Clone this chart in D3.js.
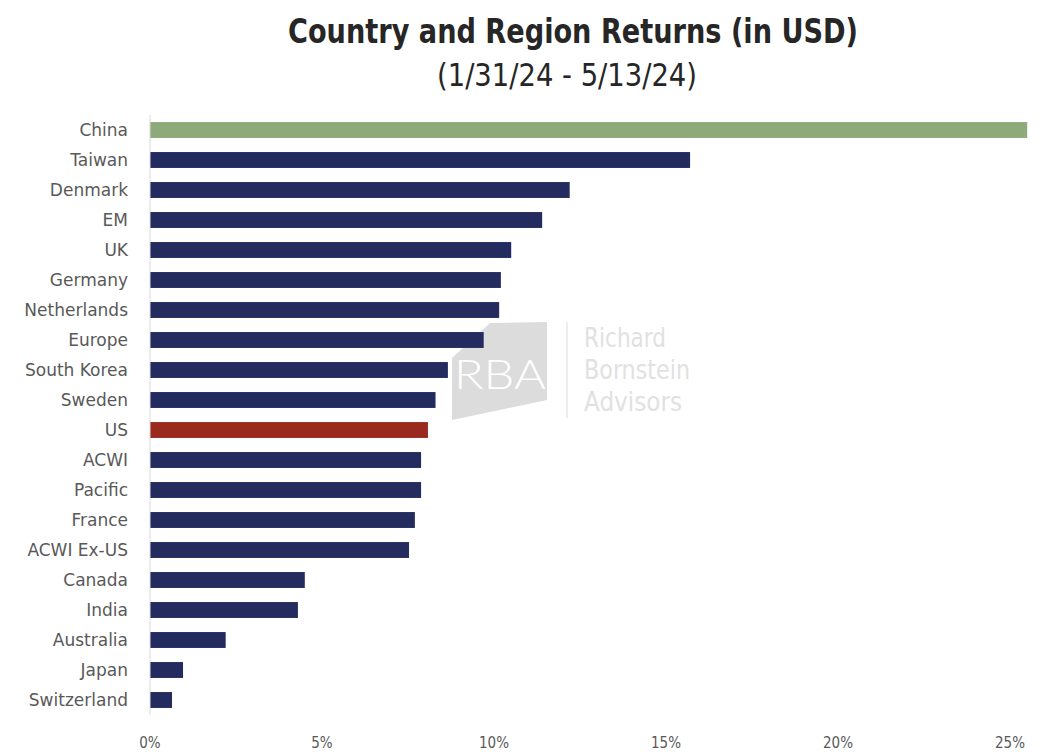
<!DOCTYPE html>
<html>
<head>
<meta charset="utf-8">
<script src="https://cdn.jsdelivr.net/npm/d3@7"></script>
<style>
  body { margin: 0; background: #fff; }
  svg text { font-family: "Liberation Sans Narrow", "DejaVu Sans Condensed", "Liberation Sans", sans-serif; }
</style>
</head>
<body>
<div id="chart"></div>
<script>
(function(d3) {
  'use strict';

  var countries = ['China', 'Taiwan', 'Denmark', 'EM', 'UK', 'Germany', 'Netherlands',
    'Europe', 'South Korea', 'Sweden', 'US', 'ACWI', 'Pacific', 'France', 'ACWI Ex-US',
    'Canada', 'India', 'Australia', 'Japan', 'Switzerland'];
  var returns = [25.5, 15.7, 12.2, 11.4, 10.5, 10.2, 10.15, 9.7, 8.66, 8.3, 8.08,
    7.88, 7.88, 7.7, 7.53, 4.5, 4.3, 2.2, 0.96, 0.64];
  var ticks = [0, 5, 10, 15, 20, 25];

  var width = 1044;
  var height = 756;
  var margin = {top: 115, right: 34, bottom: 56, left: 150};

  var colorFor = function(name) {
    if (name === 'China') return '#8eaa7b';
    if (name === 'US') return '#9b2a1e';
    return '#242b5e';
  };

  var svg = d3.select('#chart')
    .append('svg')
    .attr('width', width)
    .attr('height', height);

  // title
  svg.append('text')
    .attr('x', 573).attr('y', 43)
    .attr('text-anchor', 'middle')
    .attr('font-size', 34)
    .attr('font-weight', 'bold')
    .attr('fill', '#262626')
    .attr('textLength', 570)
    .attr('lengthAdjust', 'spacingAndGlyphs')
    .text('Country and Region Returns (in USD)');

  svg.append('text')
    .attr('x', 567).attr('y', 86)
    .attr('text-anchor', 'middle')
    .attr('font-size', 32)
    .attr('fill', '#262626')
    .attr('textLength', 260)
    .attr('lengthAdjust', 'spacingAndGlyphs')
    .text('(1/31/24 - 5/13/24)');

  // watermark
  var wm = svg.append('g').attr('opacity', 0.85);
  wm.append('polygon')
    .attr('points', '490,323 547,322 547,400 452,420 452,358')
    .attr('fill', '#d6d6d6');
  wm.append('text')
    .attr('x', 500).attr('y', 389)
    .attr('text-anchor', 'middle')
    .attr('font-size', 42)
    .attr('fill', '#fff')
    .attr('textLength', 92)
    .attr('lengthAdjust', 'spacingAndGlyphs')
    .style('font-family', 'Lato, sans-serif')
    .style('font-weight', 300)
    .text('RBA');
  wm.append('line')
    .attr('x1', 567).attr('x2', 567)
    .attr('y1', 322).attr('y2', 418)
    .attr('stroke', '#e3e3e3').attr('stroke-width', 1.5);
  [['Richard', 82], ['Bornstein', 106], ['Advisors', 98]].forEach(function(t, i) {
    wm.append('text')
      .attr('x', 584).attr('y', 347 + i * 32)
      .attr('font-size', 27)
      .attr('fill', '#dcdcdc')
      .attr('textLength', t[1])
      .attr('lengthAdjust', 'spacingAndGlyphs')
      .text(t[0]);
  });

  var x = d3.scaleLinear()
    .domain([0, 25])
    .range([margin.left, 1010]);

  var y = d3.scaleBand()
    .domain(countries)
    .range([margin.top, margin.top + 30 * countries.length])
    .paddingInner(0.47)
    .paddingOuter(0.235);

  var data = countries.map(function(c, i) { return {name: c, value: returns[i]}; });

  svg.append('g').selectAll('rect')
    .data(data)
    .enter()
    .append('rect')
    .attr('x', x(0))
    .attr('y', function(d) { return y(d.name); })
    .attr('width', function(d) { return x(d.value) - x(0); })
    .attr('height', y.bandwidth())
    .attr('fill', function(d) { return colorFor(d.name); });

  // vertical axis line
  svg.append('line')
    .attr('x1', x(0)).attr('x2', x(0))
    .attr('y1', margin.top).attr('y2', margin.top + 30 * countries.length)
    .attr('stroke', '#d9d9d9').attr('stroke-width', 1);

  // category labels
  svg.append('g').selectAll('text')
    .data(countries)
    .enter()
    .append('text')
    .attr('x', 128)
    .attr('y', function(d) { return y(d) + y.bandwidth() / 2; })
    .attr('dy', '0.35em')
    .attr('text-anchor', 'end')
    .attr('font-size', 17)
    .attr('fill', '#595959')
    .style('font-family', '"DejaVu Sans", sans-serif')
    .text(function(d) { return d; });

  // x ticks
  svg.append('g').selectAll('text')
    .data(ticks)
    .enter()
    .append('text')
    .attr('x', function(d) { return x(d); })
    .attr('y', 748)
    .attr('text-anchor', 'middle')
    .attr('font-size', 15)
    .attr('fill', '#595959')
    .text(function(d) { return d + '%'; });

})(window.d3);
</script>
</body>
</html>
